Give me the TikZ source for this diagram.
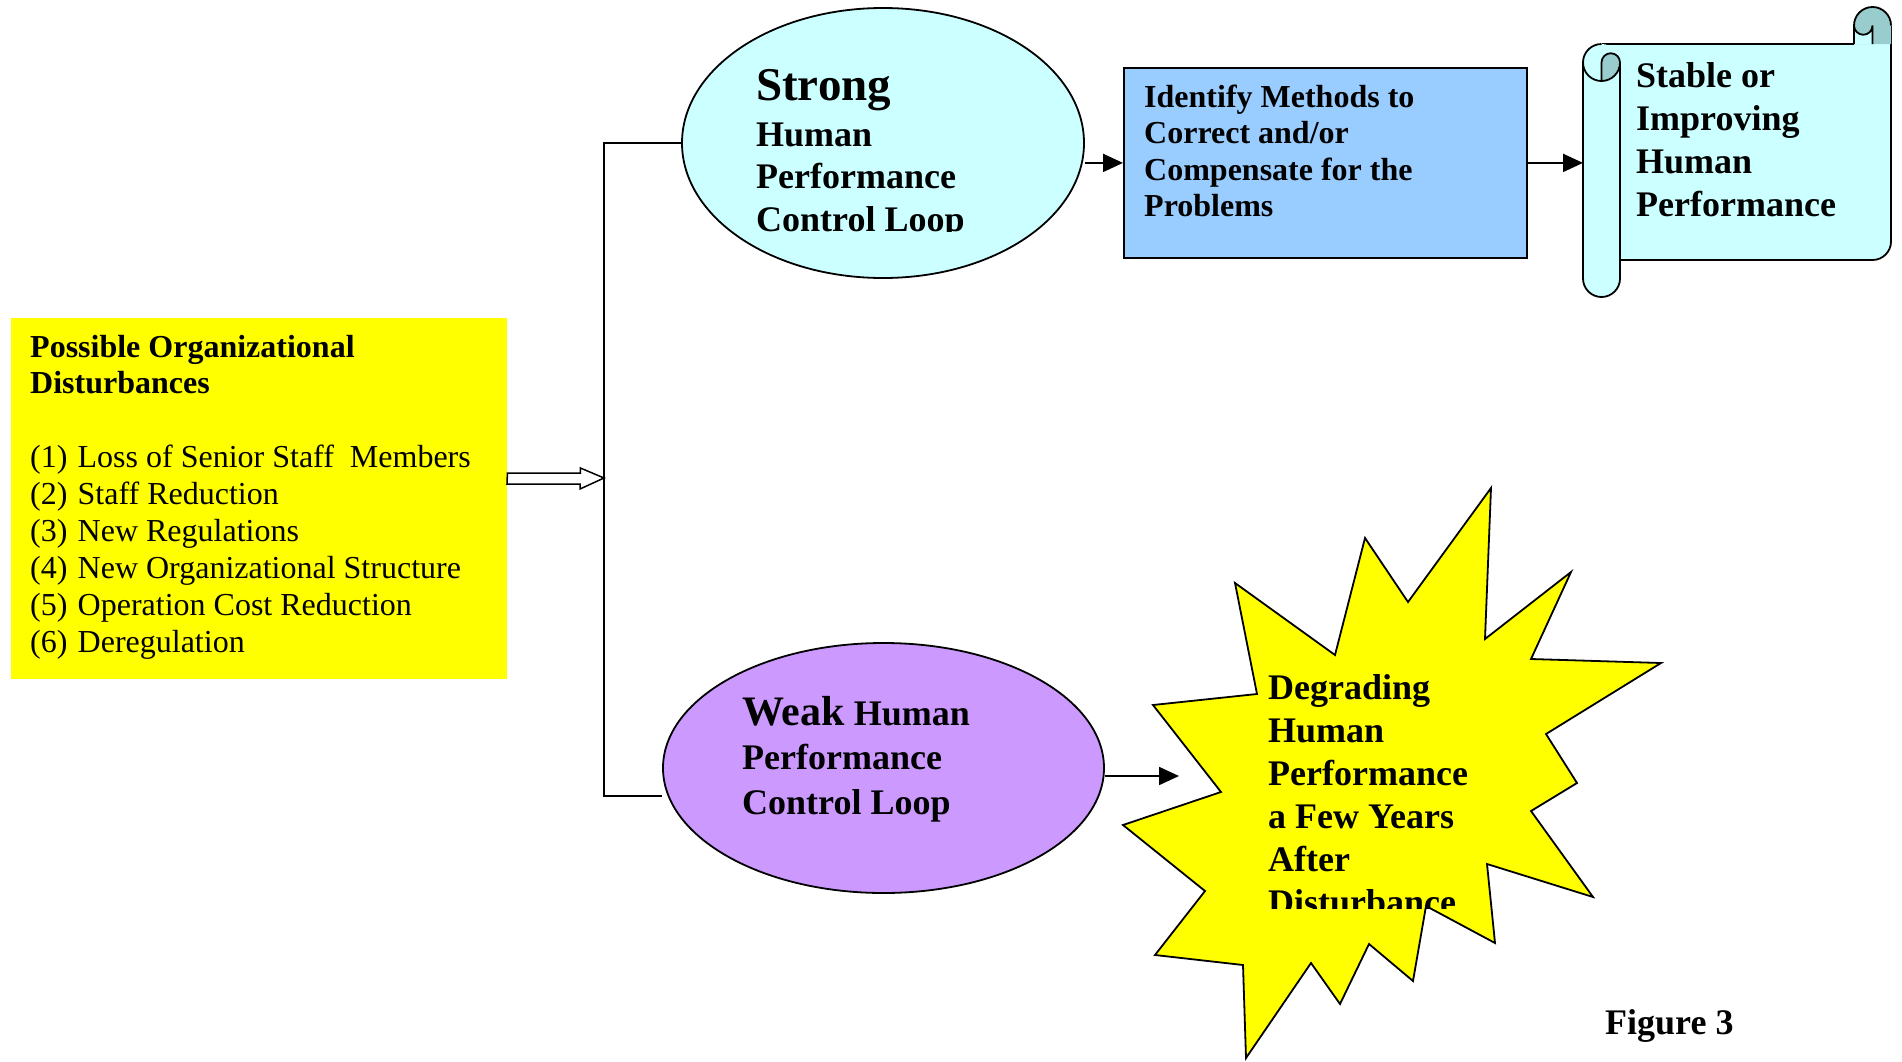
\documentclass[tikz,border=0pt]{standalone}
\usepackage{fontspec}
\setmainfont{Liberation Serif}
\usetikzlibrary{shapes.geometric,arrows.meta}
\definecolor{sunyellow}{HTML}{FFFF00}
\definecolor{paleCyan}{HTML}{CCFFFF}
\definecolor{skyBlue}{HTML}{99CCFF}
\definecolor{lilac}{HTML}{CC99FF}
\definecolor{curlTeal}{HTML}{99CCCC}
% plain word spacing inside ragged text blocks
\newcommand\plainspaces{\spaceskip=0.25em\relax}
% numbered item label of fixed width
\newcommand\itemno[1]{\makebox[47.5bp][l]{(#1)}}
\begin{document}
\begin{tikzpicture}[x=1bp,y=-1bp,
  conn/.style={line width=2bp,draw=black},
  arr/.style={conn,-{Triangle[length=20bp,width=18bp]}},
  outline/.style={line width=1.8bp,draw=black},
  txt/.style={inner sep=0pt,anchor=base west,align=left,text width=#1},
  bigtxt/.style={font=\bfseries\fontsize{36bp}{42.5bp}\selectfont},
  smalltxt/.style={font=\fontsize{32bp}{36.9bp}\selectfont},
]
\useasboundingbox (0,0) rectangle (1902,1061);

% ---------- disturbances box ----------
\node[fill=sunyellow,inner sep=0pt,minimum width=496bp,minimum height=361bp,anchor=north west] (dist) at (11,318) {};
\node[txt=470bp,smalltxt] (distText) at (30,357)
  {\plainspaces\textbf{Possible Organizational\\ Disturbances}\\[36.9bp]
   \itemno{1}Loss of Senior Staff~ Members\\
   \itemno{2}Staff Reduction\\
   \itemno{3}New Regulations\\
   \itemno{4}New Organizational Structure\\
   \itemno{5}Operation Cost Reduction\\
   \itemno{6}Deregulation};

% ---------- strong loop ----------
\node[ellipse,outline,fill=paleCyan,inner sep=0pt,minimum width=402bp,minimum height=270bp] (strong) at (883,143) {};
\begin{scope}
  \clip (700,20) rectangle (1080,231);
  \node[txt=330bp,bigtxt] (strongText) at (756,100)
    {\plainspaces{\fontsize{47bp}{42.5bp}\selectfont Strong}\\[3.5bp] Human\\ Performance\\ Control Loop};
\end{scope}

% ---------- corrective methods ----------
\node[outline,fill=skyBlue,inner sep=0pt,minimum width=403bp,minimum height=190bp,anchor=north west] (methods) at (1123,67) {};
\node[txt=370bp,font=\bfseries\fontsize{32bp}{36.5bp}\selectfont] (methodsText) at (1144,107)
  {\plainspaces Identify Methods to\\ Correct and/or\\ Compensate for the\\ Problems};

% ---------- scroll ----------
\node[inner sep=0pt,minimum width=308bp,minimum height=293bp,anchor=north west] (scroll) at (1583,4) {};
% body
\fill[paleCyan] (1601.5,44) -- (1891,44) -- (1891,241.5) arc[start angle=0,end angle=90,radius=18.5] -- (1601.5,260) -- cycle;
\draw[outline] (1601.5,44) -- (1854,44);
\draw[outline] (1891,25.5) -- (1891,241.5) arc[start angle=0,end angle=90,radius=18.5] -- (1620,260);
% top right curl
\fill[curlTeal] (1854,44) -- (1854,25.5) arc[start angle=180,end angle=360,radius=18.5] -- (1891,44) -- cycle;
\fill[paleCyan] (1854,44) -- (1854,25.5) arc[start angle=180,end angle=0,radius=9.25] -- (1872.5,44) -- cycle;
\draw[outline] (1854,44) -- (1854,25.5) arc[start angle=180,end angle=360,radius=18.5];
\draw[outline] (1854,25.5) arc[start angle=180,end angle=0,radius=9.25] -- (1872.5,44);
% left roll
\fill[paleCyan] (1583,62.5) arc[start angle=180,end angle=360,radius=18.5] -- (1620,278.5) arc[start angle=0,end angle=180,radius=18.5] -- cycle;
\draw[outline] (1601.5,44) arc[start angle=270,end angle=180,radius=18.5] -- (1583,278.5) arc[start angle=180,end angle=0,radius=18.5] -- (1620,62.5);
\draw[outline,fill=curlTeal] (1601.5,62.5) arc[start angle=180,end angle=360,radius=9.25] arc[start angle=0,end angle=90,radius=18.5] -- cycle;
\draw[outline] (1583,62.5) arc[start angle=180,end angle=90,radius=18.5];
\node[txt=250bp,font=\bfseries\fontsize{36bp}{43bp}\selectfont] (scrollText) at (1636,87)
  {\plainspaces Stable or\\ Improving\\ Human\\ Performance};

% ---------- weak loop ----------
\node[ellipse,outline,fill=lilac,inner sep=0pt,minimum width=441bp,minimum height=250bp] (weak) at (883.5,768) {};
\node[txt=330bp,font=\bfseries\fontsize{36bp}{44.5bp}\selectfont] (weakText) at (742,725)
  {\plainspaces{\fontsize{42bp}{44.5bp}\selectfont Weak} Human\\ Performance\\ Control Loop};

% ---------- degrading burst ----------
\draw[line width=1.8bp,fill=sunyellow,line join=miter]
  (1491,488) -- (1485,639) -- (1571,572) -- (1531,659) -- (1661,663) -- (1546,734)
  -- (1577,783) -- (1531,811) -- (1593,897) -- (1487,864) -- (1495,943) -- (1426,906)
  -- (1413,981) -- (1369,944) -- (1340,1004) -- (1311,963) -- (1246,1058) -- (1243,965)
  -- (1155,955) -- (1205,891) -- (1123,825) -- (1221,792) -- (1153,705) -- (1257,694)
  -- (1235,583) -- (1335,655) -- (1365,538) -- (1408,602) -- cycle;
\coordinate (burstIn) at (1179,776);
\begin{scope}
  \clip (1250,640) rectangle (1620,908);
  \node[txt=330bp,font=\bfseries\fontsize{36bp}{43bp}\selectfont] (burstText) at (1268,699)
    {\plainspaces Degrading\\ Human\\ Performance\\ a Few Years\\ After\\ Disturbance};
\end{scope}

% ---------- connectors ----------
\coordinate (jTop) at (604,143);
\coordinate (jBot) at (604,796);
\coordinate (jMid) at (604,478);
\draw[conn] (strong.west) -- (jTop) -- (jBot) -- (weak.west |- jBot);
% hollow block arrow from the disturbances box
\draw[line width=1.5bp,fill=white,line join=miter]
  (dist.east |- jMid) ++(0,-5) -- ++(73,0) -- ++(0,-5) -- (jMid) -- ++(-24,11) -- ++(0,-5) -- ++(-73,0) -- cycle;
\draw[arr] (strong.east |- methods.west) -- (methods.west);
\draw[arr] (methods.east) -- (scroll.west |- methods.east);
\draw[arr] (weak.east |- burstIn) -- (burstIn);

% caption
\node[inner sep=0pt,anchor=base west,font=\bfseries\fontsize{36bp}{43bp}\selectfont] (caption) at (1605,1034) {Figure 3};
\end{tikzpicture}
\end{document}
